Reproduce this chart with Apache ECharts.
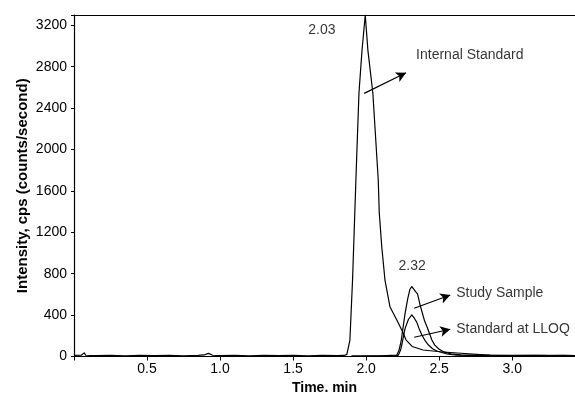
<!DOCTYPE html>
<html>
<head>
<meta charset="utf-8">
<script src="https://cdn.jsdelivr.net/npm/echarts@6/dist/echarts.min.js"></script>
<style>html,body{margin:0;padding:0;background:#fff;overflow:hidden;}#c{width:575px;height:394px;}</style>
</head>
<body>
<div id="c"></div>
<script>
// Time (min), intensity (cps)
const internalStandard = [
  [0.00,10],[0.05,12],[0.07,35],[0.08,12],[0.15,8],[0.25,10],[0.35,6],[0.45,12],[0.55,8],[0.65,10],
  [0.75,6],[0.85,10],[0.89,15],[0.92,30],[0.95,12],[1.00,8],[1.10,12],[1.20,6],[1.30,10],[1.40,8],
  [1.50,12],[1.60,6],[1.70,10],[1.80,8],[1.85,10],[1.868,20],[1.889,159],[1.907,739],[1.930,1705],
  [1.937,1995],[1.951,2546],[1.972,2961],[1.994,3300],[2.012,2961],[2.046,2546],[2.083,1705],
  [2.090,1386],[2.107,1061],[2.129,739],[2.163,481],[2.210,353],[2.244,256],[2.274,159],[2.315,97],
  [2.390,63],[2.507,46],[2.624,34],[2.782,19],[2.85,14],[2.95,12],[3.05,10],[3.15,12],[3.25,8],
  [3.35,10],[3.43,8]
];
const studySample = [
  [1.90,5],[2.10,6],[2.210,14],[2.225,60],[2.240,150],[2.255,300],[2.267,420],[2.285,560],[2.300,650],
  [2.313,676],[2.325,660],[2.340,625],[2.352,605],[2.370,495],[2.400,345],[2.420,275],[2.450,160],
  [2.470,110],[2.500,70],[2.530,45],[2.580,25],[2.650,15],[2.80,10],[3.00,8],[3.20,10],[3.43,8]
];
const standardLLOQ = [
  [1.90,5],[2.10,6],[2.200,5],[2.221,14],[2.235,60],[2.244,111],[2.255,190],[2.267,272],[2.290,360],
  [2.313,402],[2.330,370],[2.347,330],[2.365,260],[2.381,210],[2.405,150],[2.427,111],[2.455,75],
  [2.484,53],[2.553,24],[2.620,12],[2.80,8],[3.00,6],[3.20,8],[3.43,6]
];
const xTickLabels = ['0.5','1.0','1.5','2.0','2.5','3.0'];
const yTickLabels = ['0','400','800','1200','1600','2000','2400','2800','3200'];
const annotationTexts = ['2.03','Internal Standard','2.32','Study Sample','Standard at LLOQ'];
const annotationAnchors = [[1.697,3155],[2.342,2913],[2.315,874],[2.617,614],[2.617,266]];
const arrows = [
  [[1.987,2543],[2.273,2742]],
  [[2.329,466],[2.576,594]],
  [[2.329,186],[2.576,263]]
];

const chart = echarts.init(document.getElementById('c'), null, {renderer:'canvas'});
const FONT = 'Liberation Sans, Arial, sans-serif';
const INK = '#000';
const lineSeries = (name, data) => ({
  name, type:'line', data, showSymbol:false, smooth:false, silent:true,
  lineStyle:{color:INK, width:1.2, join:'round'}, z:3
});
const annAlign = ['center','left','center','left','left'];
const xLabelOf = v => { const s = v.toFixed(1); return xTickLabels.includes(s) && Math.abs(v - parseFloat(s))<1e-6 ? s : ''; };
const yLabelOf = v => yTickLabels.includes(String(v)) ? String(v) : '';

option = {
  animation:false,
  backgroundColor:'#fff',
  grid:{left:74, right:0, top:15, bottom:37.5, containLabel:false, outerBoundsMode:'none'},
  xAxis:[{
    type:'value', min:0, max:3.43, interval:0.5,
    name:'Time. min', nameLocation:'middle', nameGap:16,
    nameTextStyle:{fontFamily:FONT, fontSize:14, fontWeight:'bold', color:INK},
    axisLine:{lineStyle:{color:INK, width:1.2}},
    axisTick:{show:true, length:4, lineStyle:{color:INK}},
    splitLine:{show:false},
    axisLabel:{fontFamily:FONT, fontSize:14, color:INK, margin:6, formatter:xLabelOf}
  },{
    type:'value', position:'top', min:0, max:3.43,
    axisLine:{show:true, lineStyle:{color:INK, width:1.2}},
    axisTick:{show:false}, axisLabel:{show:false}, splitLine:{show:false}
  }],
  yAxis:{
    type:'value', min:0, max:3300, interval:400,
    name:'Intensity, cps (counts/second)', nameLocation:'middle', nameGap:44, nameMoveOverlap:false,
    nameTextStyle:{fontFamily:FONT, fontSize:15, fontWeight:'bold', color:INK},
    axisLine:{show:true, lineStyle:{color:INK, width:1.2}},
    axisTick:{show:true, length:3, lineStyle:{color:INK}},
    splitLine:{show:false},
    axisLabel:{fontFamily:FONT, fontSize:14, color:INK, margin:7, formatter:yLabelOf}
  },
  series:[
    lineSeries('Internal Standard', internalStandard),
    lineSeries('Study Sample', studySample),
    lineSeries('Standard at LLOQ', standardLLOQ),
    {
      name:'annotations', type:'scatter', symbolSize:0, silent:true, z:5,
      data: annotationTexts.map((t,i)=>({value:annotationAnchors[i], name:t,
        label:{show:true, formatter:t, position:annAlign[i]==='left'?'right':'inside',
          distance:0, fontFamily:FONT, fontSize:14, color:INK}})),
      markLine:{
        silent:true, symbol:['none','arrow'], symbolSize:[8,10],
        lineStyle:{color:INK, width:1.2, type:'solid'},
        label:{show:false},
        data: arrows.map(a=>[{coord:a[0]},{coord:a[1]}])
      }
    }
  ]
};
chart.setOption(option);
</script>
</body>
</html>
